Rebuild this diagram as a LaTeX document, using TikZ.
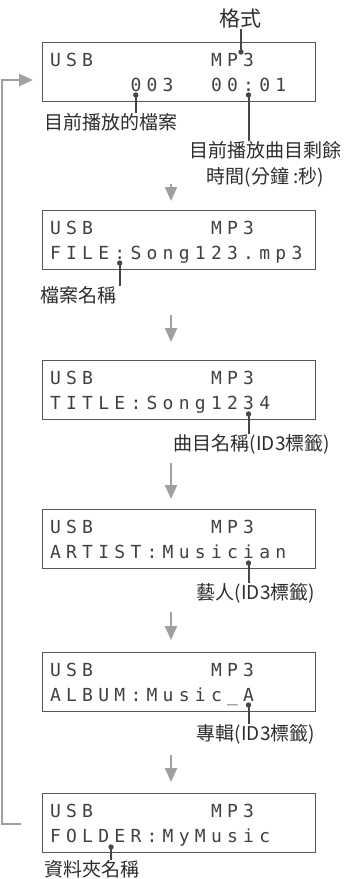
\documentclass[tikz,border=0pt]{standalone}
\usepackage{fontspec}
\newfontfamily\cjk{Noto Sans CJK TC}
\newfontfamily\lcdfont{DejaVu Sans Mono}
\usetikzlibrary{arrows.meta}
\definecolor{boxc}{RGB}{95,85,80}
\definecolor{lcdc}{RGB}{65,65,65}
\definecolor{leadc}{RGB}{70,70,70}
\definecolor{arrc}{RGB}{160,160,160}
\definecolor{labc}{RGB}{45,45,45}
\def\lcdend{LCDEND}
\newcommand\lcdrow[1]{\lcdrowA#1\lcdend}
\newcommand\lcdrowA[1]{\ifx#1\lcdend\else\makebox[16.1pt][c]{#1}\expandafter\lcdrowA\fi}
\tikzset{
  lcdbox/.style={draw=boxc, line width=1.3pt, minimum width=273pt, minimum height=59pt, anchor=north west, inner sep=0pt},
  lcdtxt/.style={anchor=base west, inner sep=0pt, text=lcdc, font=\lcdfont\fontsize{18}{18}\selectfont},
  lab/.style={text=labc, font=\cjk\fontsize{19}{19}\selectfont, inner sep=0pt},
  lead/.style={draw=leadc, line width=2pt},
  leaddot/.style={fill=leadc},
  flow/.style={draw=arrc, line width=2.2pt, -{Triangle[width=12pt,length=14pt]}}
}
\begin{document}
\begin{tikzpicture}[x=1pt,y=-1pt]
\useasboundingbox (0,0) rectangle (347,879);
% boxes
\node[lcdbox] (b1) at (42,42) {};
\node[lcdbox] (b2) at (42,210) {};
\node[lcdbox] (b3) at (42,360) {};
\node[lcdbox] (b4) at (42,509) {};
\node[lcdbox] (b5) at (42,652) {};
\node[lcdbox] (b6) at (42,793) {};
% LCD text
\node[lcdtxt] (t1a) at (47.2,66.5) {\lcdrow{USB~~~~~~~MP3}};
\node[lcdtxt] (t1b) at (47.2,91.5) {\lcdrow{~~~~~003~~00:01}};
\node[lcdtxt] (t2a) at (47.2,234.5) {\lcdrow{USB~~~~~~~MP3}};
\node[lcdtxt] (t2b) at (47.2,259.5) {\lcdrow{FILE:Song123.mp3}};
\node[lcdtxt] (t3a) at (47.2,384.5) {\lcdrow{USB~~~~~~~MP3}};
\node[lcdtxt] (t3b) at (47.2,409.5) {\lcdrow{TITLE:Song1234}};
\node[lcdtxt] (t4a) at (47.2,533.5) {\lcdrow{USB~~~~~~~MP3}};
\node[lcdtxt] (t4b) at (47.2,558.5) {\lcdrow{ARTIST:Musician}};
\node[lcdtxt] (t5a) at (47.2,676.5) {\lcdrow{USB~~~~~~~MP3}};
\node[lcdtxt] (t5b) at (47.2,701.5) {\lcdrow{ALBUM:Music\_A}};
\node[lcdtxt] (t6a) at (47.2,817.5) {\lcdrow{USB~~~~~~~MP3}};
\node[lcdtxt] (t6b) at (47.2,842.5) {\lcdrow{FOLDER:MyMusic}};
% labels
\node[lab, font=\cjk\fontsize{21}{21}\selectfont] (lfmt) at (240,19) {格式};
\node[lab] (lcur) at (111.5,122) {目前播放的檔案};
\node[lab] (lrem) at (265,150) {目前播放曲目剩餘};
\node[lab] (lrem2) at (265.5,177) {時間(分鐘 :秒)};
\node[lab] (lfile) at (78.5,295) {檔案名稱};
\node[lab] (ltitle) at (252,444) {曲目名稱(ID3標籤)};
\node[lab] (lart) at (256,593) {藝人(ID3標籤)};
\node[lab] (lalb) at (256,734) {專輯(ID3標籤)};
\node[lab] (lfold) at (92.5,869) {資料夾名稱};
% leader points
\coordinate (dfmt) at (241,52);
\coordinate (dcur) at (135.8,95);
\coordinate (drem) at (248.5,95);
\coordinate (dfile) at (119.7,263);
\coordinate (dtitle) at (248.5,414);
\coordinate (dart) at (248.5,563);
\coordinate (dalb) at (248.5,705);
\coordinate (dfold) at (111,847);
\draw[lead] (dfmt) -- (dfmt |- lfmt.south);
\draw[lead] (dcur) -- (dcur |- lcur.north);
\draw[lead] (drem) -- (drem |- lrem.north);
\draw[lead] (dfile) -- (dfile |- lfile.north);
\draw[lead] (dtitle) -- (dtitle |- ltitle.north);
\draw[lead] (dart) -- (dart |- lart.north);
\draw[lead] (dalb) -- (dalb |- lalb.north);
\draw[lead] (dfold) -- (dfold |- lfold.north);
\foreach \p in {dfmt,dcur,drem,dfile,dtitle,dart,dalb,dfold}
  \fill[leaddot] (\p) circle (2.7pt);
% flow arrows
\coordinate (a1s) at (171,184); \coordinate (a1e) at (171,201);
\coordinate (a2s) at (171,315); \coordinate (a2e) at (171,342);
\coordinate (a3s) at (171,463); \coordinate (a3e) at (171,499);
\coordinate (a4s) at (171,612); \coordinate (a4e) at (171,640);
\coordinate (a5s) at (171,755); \coordinate (a5e) at (171,782);
\draw[flow] (a1s) -- (a1e);
\draw[flow] (a2s) -- (a2e);
\draw[flow] (a3s) -- (a3e);
\draw[flow] (a4s) -- (a4e);
\draw[flow] (a5s) -- (a5e);
% loop back
\coordinate (lp0) at (21,824);
\coordinate (lp1) at (2,824);
\coordinate (lp2) at (2,80);
\coordinate (lp3) at (33,80);
\draw[flow] (lp0) -- (lp1) -- (lp2) -- (lp3);
\end{tikzpicture}
\end{document}
